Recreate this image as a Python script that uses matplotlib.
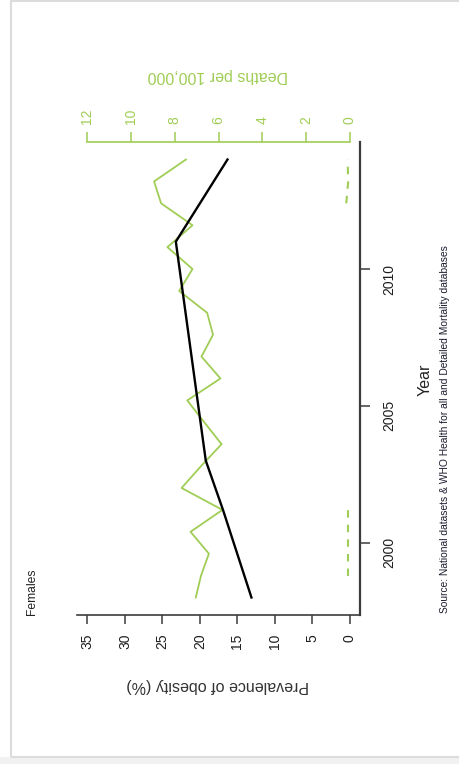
import matplotlib
matplotlib.use("Agg")
import matplotlib.pyplot as plt
from matplotlib.patches import Rectangle

plt.rcParams['font.family'] = ['Liberation Sans', 'DejaVu Sans']

# prevalence of obesity (%) - black line
obesity_years = [1998, 2001.2, 2003, 2011, 2014]
obesity_pct = [13.1, 16.9, 19.2, 23.2, 16.3]

# deaths per 100,000 - green line
death_years = [1998.0, 1998.8, 1999.6, 2000.4, 2001.2, 2002.0, 2002.8, 2003.6,
               2004.4, 2005.2, 2006.0, 2006.8, 2007.6, 2008.4, 2009.2, 2010.0,
               2010.8, 2011.6, 2012.4, 2013.2, 2014.0]
deaths = [7.04, 6.8, 6.44, 7.28, 5.82, 7.69, 6.8, 5.86,
          6.65, 7.43, 5.91, 6.78, 6.25, 6.52, 7.8, 7.19,
          8.34, 7.19, 8.63, 8.95, 7.49]

# small dashed series near zero
dash_years_a = [1998.8, 1999.6, 2000.4, 2001.2]
dash_vals_a = [0.06, 0.06, 0.06, 0.06]
dash_years_b = [2012.4, 2013.2, 2014.0]
dash_vals_b = [0.15, 0.06, 0.09]

prev_ticks = [0, 5, 10, 15, 20, 25, 30, 35]
death_ticks = [0, 2, 4, 6, 8, 10, 12]
year_ticks = [2000, 2005, 2010]

W, H = 459, 764
green = '#A0CD55'
axis_grey = '#3c3c3c'


def px(x, y):
    return x / W, 1 - y / H


fig = plt.figure(figsize=(W / 100, H / 100), dpi=100)
fig.patch.set_facecolor('white')

# page frame
fig.add_artist(Rectangle((0, 0), 1, 7 / H, transform=fig.transFigure,
                         facecolor='#f1f1f1', edgecolor='none'))
fig.add_artist(Rectangle(px(11, 757), 1.2, 756 / H, transform=fig.transFigure,
                         fill=False, edgecolor='#dcdcdc', lw=1.5))

l, t, r, b = 77, 142, 360, 615
ax = fig.add_axes([l / W, 1 - b / H, (r - l) / W, (b - t) / H])
ax2 = ax.twiny()

ax2.plot(deaths, death_years, color=green, lw=1.3)
ax2.plot(dash_vals_a, dash_years_a, color=green, lw=1.5, dashes=(3.6, 3.4))
ax2.plot(dash_vals_b, dash_years_b, color=green, lw=1.5, dashes=(3.6, 3.4))
ax2.set_xlim(12.48, -0.48)

ax.plot(obesity_pct, obesity_years, color='black', lw=1.7)
ax.set_xlim(36.4, -1.4)
ax.set_ylim(1997.36, 2014.64)
ax.set_zorder(2)
ax.patch.set_visible(False)

for s in ['left', 'top']:
    ax.spines[s].set_visible(False)
ax.spines['bottom'].set_color(axis_grey)
ax.spines['right'].set_color(axis_grey)
ax.spines['bottom'].set_linewidth(1.2)
ax.spines['right'].set_linewidth(1.6)

ax.set_xticks(prev_ticks)
ax.set_yticks(year_ticks)
ax.yaxis.tick_right()
ax.tick_params(axis='x', direction='out', length=6.5, width=1.1, color=axis_grey,
               labelrotation=90, pad=7, labelsize=10, labelcolor='#1e1e1e')
ax.tick_params(axis='y', direction='out', length=7, width=1.1, color=axis_grey,
               labelrotation=90, pad=9, labelsize=10, labelcolor='#1e1e1e')

for s in ['left', 'right', 'bottom']:
    ax2.spines[s].set_visible(False)
ax2.spines['top'].set_bounds(0, 12)
ax2.spines['top'].set_color(green)
ax2.spines['top'].set_linewidth(1.2)
ax2.set_xticks(death_ticks)
ax2.tick_params(axis='x', direction='out', length=7, width=1.1, color=green,
                labelrotation=90, pad=6, labelsize=10, labelcolor=green)

fig.text(*px(32, 592), 'Females', rotation=90, ha='center', va='center',
         fontsize=8.7, color='#222222')
fig.text(*px(218, 685), 'Prevalence of obesity (%)', rotation=180,
         ha='center', va='center', fontsize=11.5, color='#333333')
fig.text(*px(218, 75), 'Deaths per 100,000', rotation=180,
         ha='center', va='center', fontsize=11.5, color=green)
fig.text(*px(425, 380), 'Year', rotation=90, ha='center', va='center',
         fontsize=11.5, color='#222222')
fig.text(*px(445, 613),
         'Source: National datasets & WHO Health for all and Detailed Mortality databases',
         rotation=90, ha='center', va='bottom', fontsize=7.4, color='#1c1c30')

fig.savefig('out.png', dpi=100)
